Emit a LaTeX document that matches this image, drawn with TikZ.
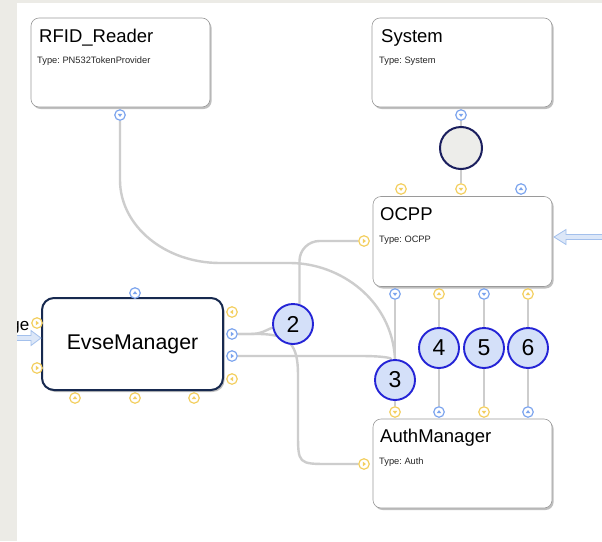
\documentclass[tikz,border=0pt]{standalone}
\usepackage{fontspec}
\setmainfont{Liberation Sans}
\usetikzlibrary{shadows}
\pgfdeclarelayer{canvas}
\pgfdeclarelayer{background}
\pgfsetlayers{canvas,background,main}
\frenchspacing

\definecolor{portY}{HTML}{F3CF60}
\definecolor{portB}{HTML}{7DA5EE}
\definecolor{wirec}{HTML}{CDCDCD}
\definecolor{numfill}{HTML}{D4E0F9}
\definecolor{numdraw}{HTML}{2424D6}
\definecolor{bigfill}{HTML}{EDEDEA}
\definecolor{bigdraw}{HTML}{1B1F5E}
\definecolor{boxdraw}{HTML}{9A9A9A}
\definecolor{evsedraw}{HTML}{17294F}
\definecolor{arrfill}{HTML}{DCE7F8}
\definecolor{arrdraw}{HTML}{A3C0EC}
\definecolor{stripc}{HTML}{ECEBE6}

% port: small ring with a direction triangle (rotate 0=down, 90=right, 180=up, -90=left)
\newcommand\portat[5]{%
  \node[portring, draw=#4] (#1) at (#2,#3) {};
  \fill[#4, shift={(#1.center)}, rotate=#5] (-2.3,-1.1) -- (2.3,-1.1) -- (0,1.9) -- cycle;
}

\begin{document}
\begin{tikzpicture}[x=1pt, y=-1pt,
  compbox/.style={draw=boxdraw, line width=0.6pt, fill=white, rounded corners=8pt,
    rectangle, inner sep=0pt,
    drop shadow={shadow xshift=1.6pt, shadow yshift=-2pt, opacity=0.45, fill=black!55}},
  evsebox/.style={draw=evsedraw, line width=2pt, fill=white, rounded corners=12pt,
    rectangle, inner sep=0pt,
    drop shadow={shadow xshift=1.6pt, shadow yshift=-2pt, opacity=0.45, fill=black!55}},
  titletext/.style={anchor=base west, inner sep=0pt, font=\fontsize{18.5}{20}\selectfont},
  typetext/.style={anchor=base west, inner sep=0pt, font=\fontsize{9.3}{11}\selectfont, text=black!85},
  portring/.style={circle, fill=white, line width=1.2pt, minimum size=10.5pt, inner sep=0pt},
  numc/.style={circle, draw=numdraw, fill=numfill, line width=1.9pt, minimum size=40pt,
    inner sep=0pt, font=\fontsize{23}{23}\selectfont},
  wire/.style={draw=wirec, line width=2.4pt},
  hollowarrow/.style={fill=arrfill, draw=arrdraw, line width=0.8pt, line join=miter}
]
\useasboundingbox (0,0) rectangle (602,541);
\begin{pgfonlayer}{canvas}
  \fill[white] (0,0) rectangle (602,541);
\end{pgfonlayer}

% ---------- components ----------
\node[compbox, minimum width=179pt, minimum height=89pt] (rfid) at (120.5,62.5) {};
\node[titletext] (rfidT) at (39,42) {RFID\_Reader};
\node[typetext] (rfidS) at (37,63.5) {Type: PN532TokenProvider};

\node[compbox, minimum width=180pt, minimum height=89pt] (sys) at (462,62.5) {};
\node[titletext] (sysT) at (381,42) {System};
\node[typetext] (sysS) at (379,63.5) {Type: System};

\node[compbox, minimum width=179pt, minimum height=90pt] (ocpp) at (462.5,241.5) {};
\node[titletext] (ocppT) at (380,220.5) {OCPP};
\node[typetext] (ocppS) at (379,242) {Type: OCPP};

\node[compbox, minimum width=179pt, minimum height=89pt] (auth) at (462.5,463.5) {};
\node[titletext] (authT) at (380,442.5) {AuthManager};
\node[typetext] (authS) at (379,464) {Type: Auth};

\node[evsebox, minimum width=181pt, minimum height=92pt,
      font=\fontsize{21.3}{22}\selectfont] (evse) at (132.5,344) {EvseManager};

% ---------- ports ----------
\portat{pRfid}{120}{115}{portB}{0}
\portat{pSys}{461}{115}{portB}{0}

\portat{pOt1}{401}{189}{portY}{0}
\portat{pOt2}{461}{189}{portY}{0}
\portat{pOt3}{521}{189}{portB}{180}
\portat{pOl}{364}{241}{portY}{90}
\portat{pOb1}{395}{294}{portB}{0}
\portat{pOb2}{439}{294}{portY}{180}
\portat{pOb3}{484}{294}{portB}{0}
\portat{pOb4}{528}{294}{portY}{180}

\portat{pAt1}{395}{412}{portY}{0}
\portat{pAt2}{439}{412}{portB}{180}
\portat{pAt3}{484}{412}{portY}{0}
\portat{pAt4}{528}{412}{portB}{180}
\portat{pAl}{364}{464}{portY}{90}

\portat{pEt}{135}{293}{portB}{180}
\portat{pEl1}{37}{323}{portY}{90}
\portat{pEl2}{37}{368}{portY}{90}
\portat{pEr1}{232}{312}{portY}{-90}
\portat{pEr2}{232}{334}{portB}{90}
\portat{pEr3}{232}{356}{portB}{90}
\portat{pEr4}{232}{379}{portY}{-90}
\portat{pEb1}{75}{398}{portY}{180}
\portat{pEb2}{135}{398}{portY}{180}
\portat{pEb3}{194}{398}{portY}{180}

% ---------- junction circles ----------
\node[circle, draw=bigdraw, fill=bigfill, line width=2pt, minimum size=42pt, inner sep=0pt]
  (bigc) at (461,148) {};
\node[numc] (c2) at (293,324) {2};
\node[numc] (c3) at (395,380) {3};
\node[numc] (c4) at (439,348) {4};
\node[numc] (c5) at (484,348) {5};
\node[numc] (c6) at (528,348) {6};

% ---------- connectors ----------
\begin{pgfonlayer}{background}
  \draw[wire] (pRfid.south) -- (120,180) .. controls (120,226) and (165,263) .. (220,263)
     -- (290,263) .. controls (340,263) and (392,300) .. (c3.north);
  \draw[wire] (pSys.south) -- (bigc.north);
  \draw[wire] (bigc.south) -- (pOt2.north);
  \draw[wire, rounded corners=20pt] (c2.72) |- (pOl.west);
  \draw[wire] (pEr2.east) -- (250,334) .. controls (262,334) and (266,330) .. (c2.190);
  \draw[wire] (pEr2.east) -- (258,334) .. controls (290,334) and (298,345) .. (298,375)
     -- (298,432) .. controls (298,464) .. (330,464) -- (pAl.west);
  \draw[wire] (pEr3.east) -- (360,356) .. controls (384,356) and (392,358) .. (c3.100);
  \draw[wire] (pOb1.south) -- (c3.north);
  \draw[wire] (c3.south) -- (pAt1.north);
  \draw[wire] (pOb2.south) -- (c4.north);
  \draw[wire] (c4.south) -- (pAt2.north);
  \draw[wire] (pOb3.south) -- (c5.north);
  \draw[wire] (c5.south) -- (pAt3.north);
  \draw[wire] (pOb4.south) -- (c6.north);
  \draw[wire] (c6.south) -- (pAt4.north);
\end{pgfonlayer}

% ---------- incoming arrows ----------
\draw[hollowarrow] (603,234.5) -- (566,234.5) -- (566,229.5) -- (554,237)
  -- (566,244.5) -- (566,239.5) -- (603,239.5);
\node[anchor=base east, inner sep=0pt, font=\fontsize{17}{18}\selectfont] (lblge) at (29.5,330) {ge};
\draw[hollowarrow] (10,335.5) -- (31,335.5) -- (31,330.5) -- (41,338)
  -- (31,345.5) -- (31,340.5) -- (10,340.5);

% ---------- window edges ----------
\fill[stripc] (0,0) rectangle (17,541);
\fill[stripc] (0,0) rectangle (602,2.5);
\end{tikzpicture}
\end{document}
